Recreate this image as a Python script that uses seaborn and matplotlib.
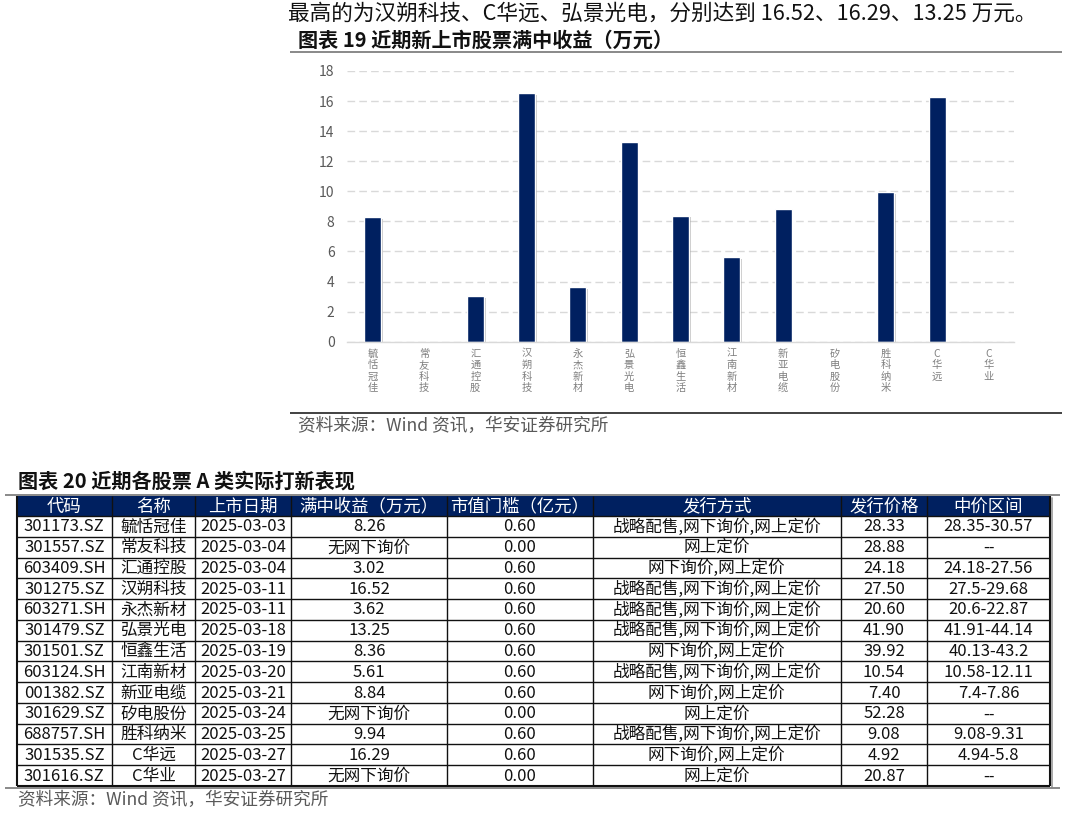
import matplotlib
matplotlib.use("Agg")
import matplotlib.pyplot as plt
import matplotlib.patheffects as pe
from matplotlib.patches import Rectangle
import seaborn as sns
import pandas as pd

# ---------------- data ----------------
codes = ["301173.SZ", "301557.SZ", "603409.SH", "301275.SZ", "603271.SH", "301479.SZ",
         "301501.SZ", "603124.SH", "001382.SZ", "301629.SZ", "688757.SH", "301535.SZ", "301616.SZ"]
names = ["毓恬冠佳", "常友科技", "汇通控股", "汉朔科技", "永杰新材", "弘景光电",
         "恒鑫生活", "江南新材", "新亚电缆", "矽电股份", "胜科纳米", "C华远", "C华业"]
dates = ["2025-03-03", "2025-03-04", "2025-03-04", "2025-03-11", "2025-03-11", "2025-03-18",
         "2025-03-19", "2025-03-20", "2025-03-21", "2025-03-24", "2025-03-25", "2025-03-27", "2025-03-27"]
returns = [8.26, None, 3.02, 16.52, 3.62, 13.25, 8.36, 5.61, 8.84, None, 9.94, 16.29, None]
thresholds = [0.60, 0.00, 0.60, 0.60, 0.60, 0.60, 0.60, 0.60, 0.60, 0.00, 0.60, 0.60, 0.00]
methods = ["战略配售,网下询价,网上定价", "网上定价", "网下询价,网上定价",
           "战略配售,网下询价,网上定价", "战略配售,网下询价,网上定价", "战略配售,网下询价,网上定价",
           "网下询价,网上定价", "战略配售,网下询价,网上定价", "网下询价,网上定价",
           "网上定价", "战略配售,网下询价,网上定价", "网下询价,网上定价", "网上定价"]
prices = [28.33, 28.88, 24.18, 27.50, 20.60, 41.90, 39.92, 10.54, 7.40, 52.28, 9.08, 4.92, 20.87]
ranges = ["28.35-30.57", "--", "24.18-27.56", "27.5-29.68", "20.6-22.87", "41.91-44.14",
          "40.13-43.2", "10.58-12.11", "7.4-7.86", "--", "9.08-9.31", "4.94-5.8", "--"]
headers = ["代码", "名称", "上市日期", "满中收益（万元）", "市值门槛（亿元）", "发行方式", "发行价格", "中价区间"]
no_offline = "无网下询价"
y_ticks = [0, 2, 4, 6, 8, 10, 12, 14, 16, 18]

intro_text = "最高的为汉朔科技、C华远、弘景光电，分别达到 16.52、16.29、13.25 万元。"
title19 = "图表 19 近期新上市股票满中收益（万元）"
title20 = "图表 20 近期各股票 A 类实际打新表现"
source = "资料来源：Wind 资讯，华安证券研究所"

# ---------------- style ----------------
sns.set_style("white")
plt.rcParams["font.family"] = ["Noto Sans CJK SC", "DejaVu Sans"]

NAVY = "#002060"
W, H = 1067, 813
fig = plt.figure(figsize=(W / 100, H / 100), dpi=100)

# overlay in pixel coordinates for page texts, rules and the table
ov = fig.add_axes([0, 0, 1, 1])
ov.set_xlim(0, W)
ov.set_ylim(H, 0)
ov.axis("off")

# ---------------- bar chart ----------------
x0, x1, ytop, ybot = 347, 1014, 71, 341.7
ax = fig.add_axes([x0 / W, 1 - ybot / H, (x1 - x0) / W, (ybot - ytop) / H])
ax.patch.set_alpha(0)
df = pd.DataFrame({"name": names, "ret": returns})
sns.barplot(data=df, x="name", y="ret", order=names, color=NAVY, saturation=1,
            width=0.33, errorbar=None, ax=ax)
for p in ax.patches:
    p.set_path_effects([pe.SimplePatchShadow(offset=(1.3, -1.0), shadow_rgbFace="#808080", alpha=0.45),
                        pe.Normal()])
ax.set_ylim(0, 18)
ax.set_xlim(-0.5, len(names) - 0.5)
ax.set_yticks(y_ticks)
ax.set_yticklabels([str(v) for v in y_ticks], fontsize=10, color="#595959")
ax.set_xticks(range(len(names)))
ax.set_xticklabels(["\n".join(n) for n in names], fontsize=7.4, color="#7f7f7f",
                   linespacing=1.18, va="top")
ax.tick_params(axis="both", length=0)
ax.tick_params(axis="y", pad=9)
ax.tick_params(axis="x", pad=5)
ax.set_xlabel("")
ax.set_ylabel("")
ax.set_axisbelow(True)
ax.yaxis.grid(True, linestyle=(0, (5.5, 3)), color="#d9d9d9", linewidth=1.0)
for s in ["top", "right", "left"]:
    ax.spines[s].set_visible(False)
ax.spines["bottom"].set_color("#d9d9d9")
ax.spines["bottom"].set_linewidth(1.0)

# ---------------- page texts / rules ----------------
ov.text(288, 13.5, intro_text, fontsize=15.6, color="#111111", va="center", ha="left")
ov.text(298, 40, title19, fontsize=14.5, fontweight="bold", color="#111111", va="center", ha="left")
ov.plot([290, 1062], [52, 52], color="#808080", lw=1.3, solid_capstyle="butt")
ov.plot([290, 1062], [412.7, 412.7], color="#333333", lw=1.3, solid_capstyle="butt")
ov.text(298, 425.5, source, fontsize=12.7, color="#595959", va="center", ha="left")

ov.text(18, 481, title20, fontsize=14.5, fontweight="bold", color="#111111", va="center", ha="left")
ov.plot([5, 1060], [495, 495], color="#808080", lw=1.3, solid_capstyle="butt")

# ---------------- table ----------------
col_edges = [16.5, 112, 195, 291, 447, 592.5, 841, 927, 1050]
head_top, head_bot, tab_bot = 496, 516, 786
n = len(codes)
row_h = (tab_bot - head_bot) / n
ov.add_patch(Rectangle((col_edges[0], head_top), col_edges[-1] - col_edges[0], head_bot - head_top,
                       facecolor=NAVY, edgecolor="none"))
for j, htxt in enumerate(headers):
    cx = (col_edges[j] + col_edges[j + 1]) / 2
    ov.text(cx, (head_top + head_bot) / 2 + 0.5, htxt, fontsize=12.5, color="white",
            ha="center", va="center")

for i in range(n):
    ret_txt = f"{returns[i]:.2f}" if returns[i] is not None else no_offline
    row = [codes[i], names[i], dates[i], ret_txt, f"{thresholds[i]:.2f}",
           methods[i], f"{prices[i]:.2f}", ranges[i]]
    cy = head_bot + (i + 0.5) * row_h
    for j, t in enumerate(row):
        cx = (col_edges[j] + col_edges[j + 1]) / 2
        ov.text(cx, cy + 0.5, t, fontsize=12, color="#111111", ha="center", va="center")

# grid lines
for i in range(n + 1):
    y = head_bot + i * row_h
    ov.plot([col_edges[0], col_edges[-1]], [y, y], color="#111111", lw=1.0 if i < n else 1.5,
            solid_capstyle="butt")
for k, xe in enumerate(col_edges):
    lw = 1.5 if k in (0, len(col_edges) - 1) else 1.0
    ov.plot([xe, xe], [head_top, tab_bot], color="#111111", lw=lw, solid_capstyle="butt")
ov.plot([1051.5, 1051.5], [head_top + 2, tab_bot + 1], color="#999999", lw=1.2)
ov.plot([5, 1060], [787.5, 787.5], color="#808080", lw=1.3, solid_capstyle="butt")
ov.text(18, 800, source, fontsize=12.7, color="#595959", va="center", ha="left")

fig.savefig("out.png", dpi=100)
